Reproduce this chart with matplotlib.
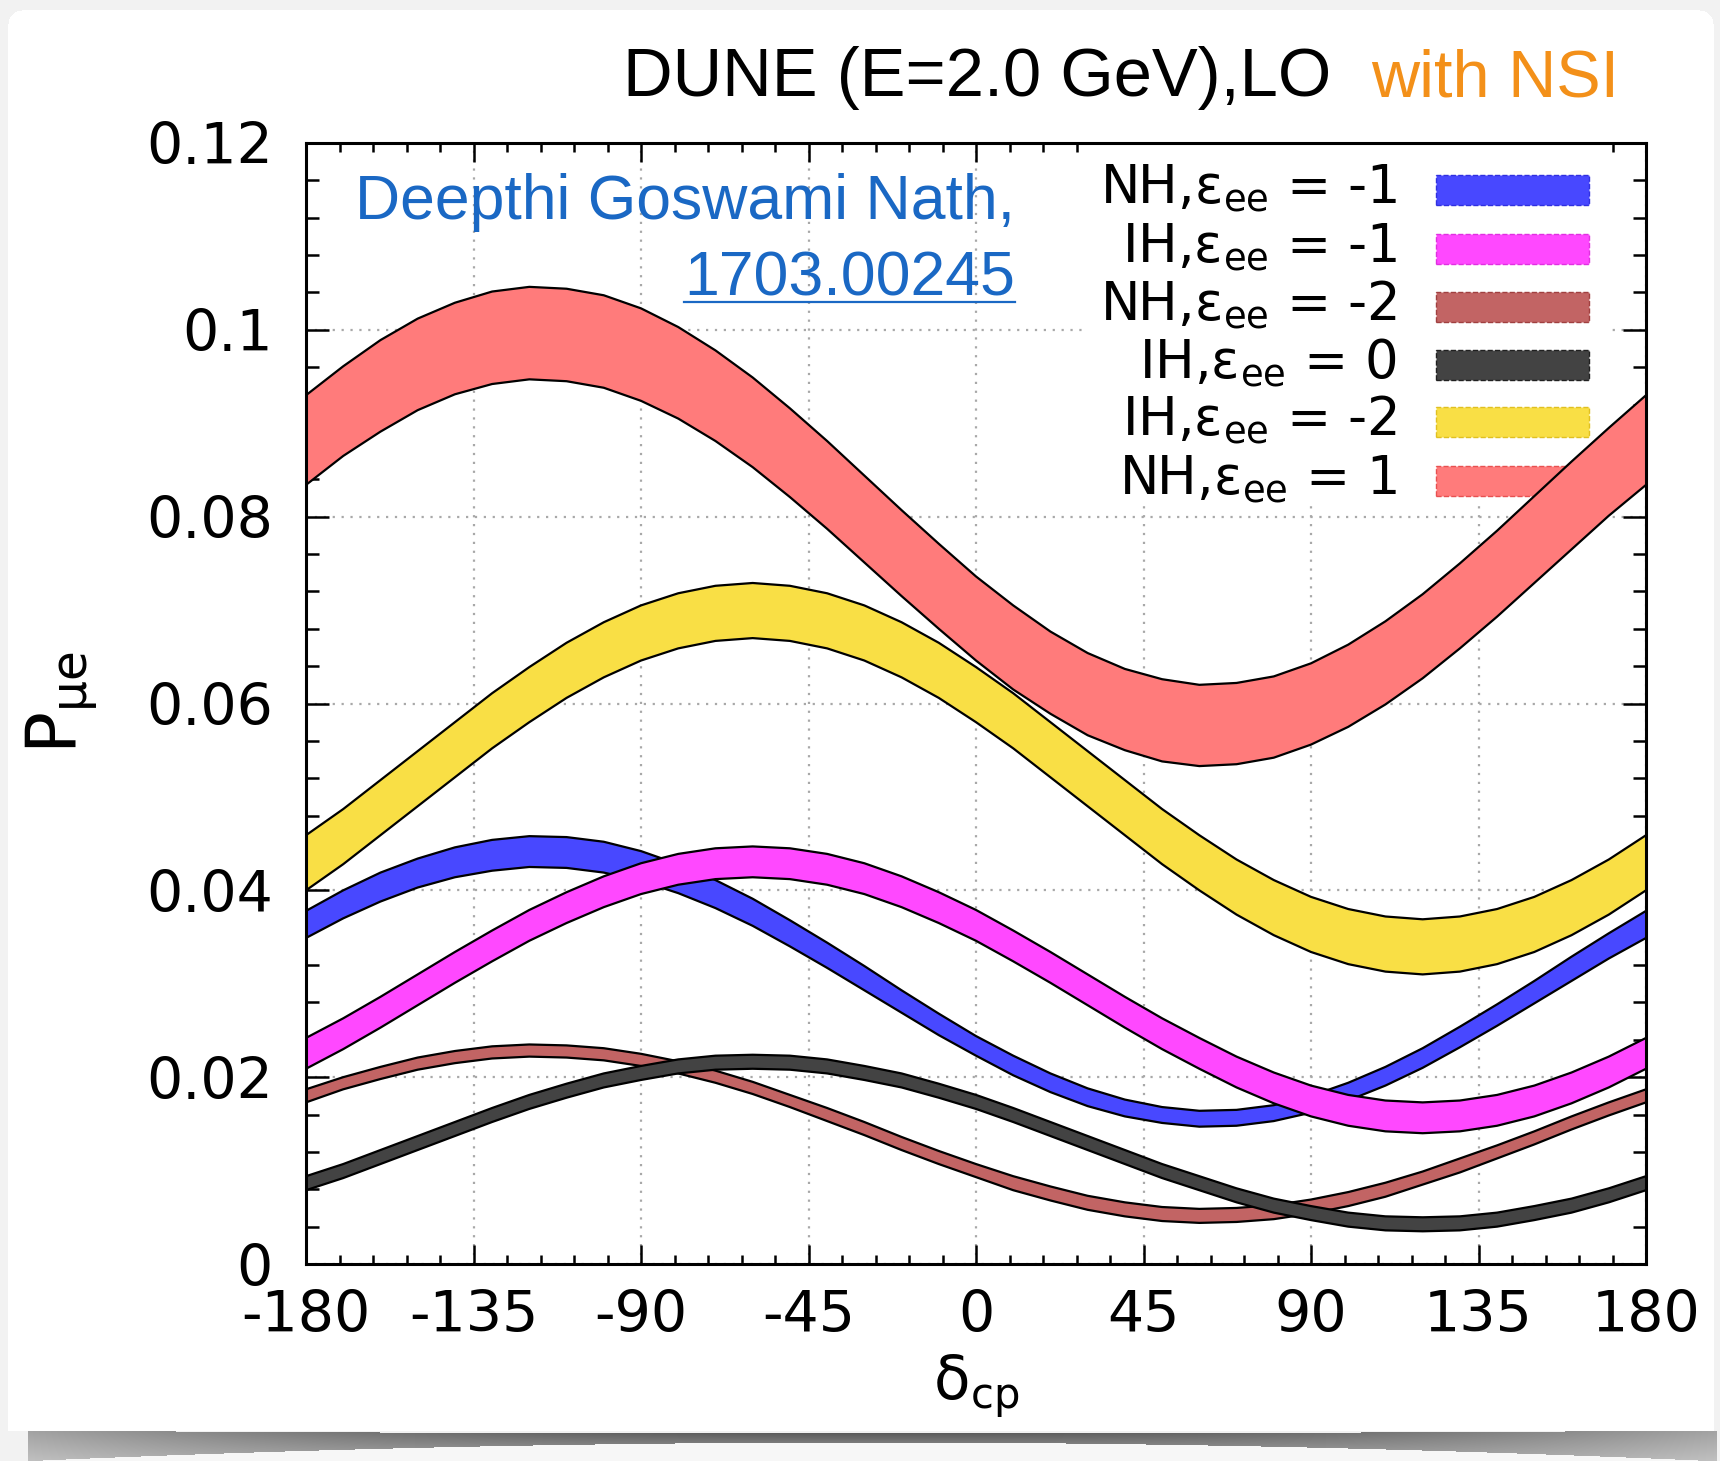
import numpy as np
import matplotlib
matplotlib.use("Agg")
import matplotlib.pyplot as plt
from matplotlib.patches import Rectangle
from matplotlib.lines import Line2D
from matplotlib.ticker import MultipleLocator

# ---------------------------------------------------------------------------
# Appearance probability P(nu_mu -> nu_e) vs delta_CP, DUNE at E = 2.0 GeV
# Each band: lower / upper edge sampled every 10 degrees
# ---------------------------------------------------------------------------
delta_cp = list(range(-180, 181, 10))

nh_m1_hi = [0.0378, 0.0400, 0.0419, 0.0434, 0.0446, 0.0454, 0.0458, 0.0457, 0.0452,
            0.0442, 0.0428, 0.0411, 0.0391, 0.0368, 0.0344, 0.0319, 0.0293, 0.0268,
            0.0244, 0.0223, 0.0204, 0.0188, 0.0176, 0.0168, 0.0164, 0.0165, 0.0170,
            0.0180, 0.0194, 0.0211, 0.0231, 0.0254, 0.0278, 0.0303, 0.0329, 0.0354,
            0.0378]
nh_m1_lo = [0.0349, 0.0370, 0.0388, 0.0403, 0.0414, 0.0421, 0.0425, 0.0424, 0.0419,
            0.0410, 0.0397, 0.0381, 0.0362, 0.0340, 0.0317, 0.0293, 0.0269, 0.0245,
            0.0223, 0.0202, 0.0184, 0.0169, 0.0158, 0.0151, 0.0147, 0.0148, 0.0153,
            0.0162, 0.0175, 0.0191, 0.0210, 0.0232, 0.0255, 0.0279, 0.0303, 0.0327,
            0.0349]

ih_m1_hi = [0.0242, 0.0263, 0.0286, 0.0310, 0.0334, 0.0357, 0.0379, 0.0398, 0.0415,
            0.0429, 0.0439, 0.0445, 0.0447, 0.0445, 0.0439, 0.0429, 0.0415, 0.0398,
            0.0379, 0.0357, 0.0334, 0.0310, 0.0286, 0.0263, 0.0242, 0.0222, 0.0205,
            0.0191, 0.0181, 0.0175, 0.0173, 0.0175, 0.0181, 0.0191, 0.0205, 0.0222,
            0.0242]
ih_m1_lo = [0.0209, 0.0230, 0.0253, 0.0277, 0.0301, 0.0324, 0.0346, 0.0365, 0.0382,
            0.0396, 0.0406, 0.0412, 0.0414, 0.0412, 0.0406, 0.0396, 0.0382, 0.0365,
            0.0346, 0.0324, 0.0301, 0.0277, 0.0253, 0.0230, 0.0209, 0.0189, 0.0172,
            0.0158, 0.0148, 0.0142, 0.0140, 0.0142, 0.0148, 0.0158, 0.0172, 0.0189,
            0.0209]

nh_m2_hi = [0.0187, 0.0200, 0.0211, 0.0221, 0.0228, 0.0233, 0.0235, 0.0234, 0.0231,
            0.0225, 0.0217, 0.0207, 0.0195, 0.0181, 0.0167, 0.0152, 0.0136, 0.0121,
            0.0107, 0.0094, 0.0083, 0.0073, 0.0066, 0.0061, 0.0059, 0.0060, 0.0063,
            0.0069, 0.0077, 0.0087, 0.0099, 0.0113, 0.0127, 0.0142, 0.0158, 0.0173,
            0.0187]
nh_m2_lo = [0.0173, 0.0187, 0.0198, 0.0208, 0.0215, 0.0220, 0.0222, 0.0221, 0.0218,
            0.0212, 0.0204, 0.0194, 0.0182, 0.0168, 0.0153, 0.0138, 0.0122, 0.0107,
            0.0093, 0.0079, 0.0068, 0.0058, 0.0051, 0.0046, 0.0044, 0.0045, 0.0048,
            0.0054, 0.0062, 0.0072, 0.0085, 0.0098, 0.0113, 0.0128, 0.0144, 0.0159,
            0.0173]

ih_0_hi = [0.0094, 0.0107, 0.0122, 0.0137, 0.0152, 0.0167, 0.0181, 0.0193, 0.0204,
           0.0212, 0.0219, 0.0223, 0.0224, 0.0223, 0.0219, 0.0212, 0.0204, 0.0193,
           0.0181, 0.0167, 0.0152, 0.0137, 0.0122, 0.0107, 0.0094, 0.0081, 0.0070,
           0.0062, 0.0055, 0.0051, 0.0050, 0.0051, 0.0055, 0.0062, 0.0070, 0.0081,
           0.0094]
ih_0_lo = [0.0079, 0.0092, 0.0107, 0.0122, 0.0137, 0.0152, 0.0166, 0.0178, 0.0189,
           0.0197, 0.0204, 0.0208, 0.0209, 0.0208, 0.0204, 0.0197, 0.0189, 0.0178,
           0.0166, 0.0152, 0.0137, 0.0122, 0.0107, 0.0092, 0.0079, 0.0066, 0.0055,
           0.0047, 0.0040, 0.0036, 0.0035, 0.0036, 0.0040, 0.0047, 0.0055, 0.0066,
           0.0079]

ih_m2_hi = [0.0459, 0.0487, 0.0518, 0.0549, 0.0580, 0.0611, 0.0639, 0.0665, 0.0687,
            0.0705, 0.0718, 0.0726, 0.0729, 0.0726, 0.0718, 0.0705, 0.0687, 0.0665,
            0.0639, 0.0611, 0.0580, 0.0549, 0.0518, 0.0487, 0.0459, 0.0433, 0.0411,
            0.0393, 0.0380, 0.0372, 0.0369, 0.0372, 0.0380, 0.0393, 0.0411, 0.0433,
            0.0459]
ih_m2_lo = [0.0400, 0.0428, 0.0459, 0.0490, 0.0521, 0.0552, 0.0580, 0.0606, 0.0628,
            0.0646, 0.0659, 0.0667, 0.0670, 0.0667, 0.0659, 0.0646, 0.0628, 0.0606,
            0.0580, 0.0552, 0.0521, 0.0490, 0.0459, 0.0428, 0.0400, 0.0374, 0.0352,
            0.0334, 0.0321, 0.0313, 0.0310, 0.0313, 0.0321, 0.0334, 0.0352, 0.0374,
            0.0400]

nh_p1_hi = [0.0930, 0.0961, 0.0989, 0.1012, 0.1029, 0.1041, 0.1046, 0.1044, 0.1037,
            0.1023, 0.1003, 0.0978, 0.0949, 0.0916, 0.0881, 0.0844, 0.0807, 0.0771,
            0.0736, 0.0705, 0.0677, 0.0654, 0.0637, 0.0626, 0.0620, 0.0622, 0.0629,
            0.0643, 0.0663, 0.0688, 0.0717, 0.0750, 0.0785, 0.0822, 0.0859, 0.0895,
            0.0930]
nh_p1_lo = [0.0834, 0.0865, 0.0891, 0.0914, 0.0931, 0.0942, 0.0947, 0.0945, 0.0938,
            0.0924, 0.0905, 0.0881, 0.0853, 0.0821, 0.0787, 0.0751, 0.0715, 0.0680,
            0.0646, 0.0615, 0.0589, 0.0566, 0.0550, 0.0538, 0.0533, 0.0535, 0.0542,
            0.0556, 0.0575, 0.0599, 0.0627, 0.0659, 0.0693, 0.0729, 0.0765, 0.0801,
            0.0834]

band_labels = ["NH,ε$_{\\mathrm{ee}}$ = -1", "IH,ε$_{\\mathrm{ee}}$ = -1",
               "NH,ε$_{\\mathrm{ee}}$ = -2", "IH,ε$_{\\mathrm{ee}}$ = 0",
               "IH,ε$_{\\mathrm{ee}}$ = -2", "NH,ε$_{\\mathrm{ee}}$ = 1"]
band_colors = ["#4848ff", "#ff48ff", "#c26464", "#434343", "#f9df45", "#ff7b7b"]
band_edges = ["#3030e0", "#e030e0", "#a04040", "#202020", "#e0c020", "#e85050"]
bands = [(nh_m1_lo, nh_m1_hi), (ih_m1_lo, ih_m1_hi), (nh_m2_lo, nh_m2_hi),
         (ih_0_lo, ih_0_hi), (ih_m2_lo, ih_m2_hi), (nh_p1_lo, nh_p1_hi)]

x_ticks = [-180, -135, -90, -45, 0, 45, 90, 135, 180]
y_ticks = [0, 0.02, 0.04, 0.06, 0.08, 0.1, 0.12]
y_tick_labels = ["0", "0.02", "0.04", "0.06", "0.08", "0.1", "0.12"]

W, H = 1720, 1461


def fx(px):
    return px / W


def fy(py):
    return 1.0 - py / H


fig = plt.figure(figsize=(W / 100, H / 100), dpi=100)

# --- slide card background with a curled-paper shadow ----------------------
yy, xx = np.mgrid[0:H, 0:W].astype(float)
img = np.full((H, W, 3), 0.95)
card = (xx >= 8) & (xx <= 1713) & (yy >= 10) & (yy <= 1430)
r = 14
for cx, cy in [(8 + r, 10 + r), (1713 - r, 10 + r)]:
    in_box = (np.abs(xx - cx) <= r) & (np.abs(yy - cy) <= r) & \
             (((xx < cx) & (cx < 100)) | ((xx > cx) & (cx > 100))) & (yy < cy)
    card &= ~(in_box & ((xx - cx) ** 2 + (yy - cy) ** 2 > r ** 2))
img[card] = 1.0
u = (xx - 870) / 850
top = 1430 + 3 * (1 - u ** 2)
bot = 1442 + 19 * u ** 2
shadow = (yy >= top) & (yy <= bot) & (xx >= 28) & (xx <= 1716)
shade = 0.36 + 0.28 * u ** 2 + 0.12 * (yy - top) / (bot - top + 1e-6)
img[shadow] = shade[shadow][:, None]
below = (yy > bot) & (yy > 1430)
img[below] = 0.97
bg = fig.add_axes([0, 0, 1, 1], zorder=-10)
bg.imshow(img, aspect="auto", extent=[0, W, H, 0], interpolation="bilinear")
bg.set_xlim(0, W)
bg.set_ylim(H, 0)
bg.axis("off")

# --- main plot -------------------------------------------------------------
ax = fig.add_axes([fx(306), fy(1264), fx(1646) - fx(306), fy(143) - fy(1264)])
ax.set_facecolor("white")
ax.set_xlim(-180, 180)
ax.set_ylim(0, 0.12)
ax.set_xticks(x_ticks)
ax.set_xticklabels([str(v) for v in x_ticks])
ax.set_yticks(y_ticks)
ax.set_yticklabels(y_tick_labels)
ax.xaxis.set_minor_locator(MultipleLocator(9))
ax.yaxis.set_minor_locator(MultipleLocator(0.004))
ax.tick_params(which="both", direction="in", top=True, right=True,
               width=1.8, color="black", labelsize=41)
ax.tick_params(axis="x", which="major", length=14, pad=18)
ax.tick_params(axis="x", which="minor", length=6.5)
ax.tick_params(axis="y", which="major", length=16.5, pad=24)
ax.tick_params(axis="y", which="minor", length=9.5)
for sp in ax.spines.values():
    sp.set_linewidth(2.2)
    sp.set_zorder(5)
ax.set_axisbelow(True)
ax.grid(which="major", color="#a8a8a8", linestyle=(0, (1, 3)), linewidth=1.6)

# key background hides the grid behind it
ax.add_patch(Rectangle(((1082 - 306) / 1340, (1264 - 505) / 1121),
                       (1610 - 1082) / 1340, (505 - 143) / 1121,
                       transform=ax.transAxes, facecolor="white",
                       edgecolor="none", zorder=0.7))

row_y = [190, 249, 307, 365, 422, 481]
for i, (lab, col, ecol) in enumerate(zip(band_labels, band_colors, band_edges)):
    cy = row_y[i]
    ax.add_patch(Rectangle(((1436 - 306) / 1340, (1264 - (cy + 15)) / 1121),
                           (1589 - 1436) / 1340, 30 / 1121,
                           transform=ax.transAxes, facecolor=col,
                           edgecolor=ecol, linestyle="--", linewidth=1.0,
                           zorder=0.8))
    ax.text((1397 - 306) / 1340, (1264 - (cy + 13)) / 1121, lab,
            transform=ax.transAxes, ha="right", va="baseline",
            fontsize=38, color="black", zorder=0.8)

for i, ((lo, hi), col) in enumerate(zip(bands, band_colors)):
    z = 1 + 0.1 * i
    ax.fill_between(delta_cp, lo, hi, facecolor=col, edgecolor="none",
                    linewidth=0, zorder=z)
    ax.plot(delta_cp, lo, color="black", linewidth=1.6, zorder=z + 0.05)
    ax.plot(delta_cp, hi, color="black", linewidth=1.6, zorder=z + 0.05)

# axis labels
fig.text(fx(62), fy(703), "P$_{\\mathrm{\\mu e}}$", rotation=90,
         ha="center", va="center", fontsize=50)
fig.text(fx(976), fy(1386), "δ$_{\\mathrm{cp}}$", ha="center", va="center",
         fontsize=43)

# title line
fig.text(fx(623), fy(96.5), "DUNE (E=2.0 GeV),LO", ha="left", va="baseline",
         fontsize=49.5, family="Liberation Sans", color="black")
fig.text(fx(1371), fy(96.5), "with NSI", ha="left", va="baseline",
         fontsize=48, family="Liberation Sans", color="#f39019")

# reference note
ref_col = "#1a68c4"
fig.text(fx(1015), fy(219), "Deepthi Goswami Nath,", ha="right", va="baseline",
         fontsize=45, family="Liberation Sans", color=ref_col)
t_ref = fig.text(fx(1015), fy(296), "1703.00245", ha="right", va="baseline",
                 fontsize=45, family="Liberation Sans", color=ref_col)
fig.canvas.draw()
bb = t_ref.get_window_extent(fig.canvas.get_renderer())
fig.add_artist(Line2D([bb.x0 / W, bb.x1 / W], [fy(302), fy(302)],
                      transform=fig.transFigure, color=ref_col, linewidth=1.6))

fig.savefig("out.png", dpi=100)
